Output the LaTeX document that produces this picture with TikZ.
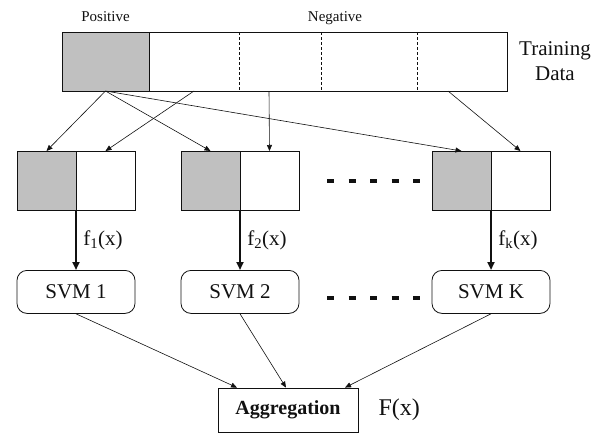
\documentclass[tikz,border=0pt]{standalone}
\usepackage{fontspec}
\setmainfont{Liberation Serif}
\usetikzlibrary{positioning,arrows.meta}
\definecolor{PosGray}{HTML}{C0C0C0}
\definecolor{NiceBlack}{HTML}{111111}

\begin{document}
\begin{tikzpicture}[x=1pt, y=-1pt, NiceBlack,
    half/.style={draw, line width=0.8pt, minimum width=59pt, minimum height=59pt,
      inner sep=0pt, outer sep=0pt},
    poshalf/.style={half, fill=PosGray},
    svmbox/.style={draw, line width=0.8pt, rounded corners=10pt, minimum width=118pt,
      minimum height=43pt, font=\fontsize{21}{21}\selectfont},
    thinarrow/.style={-{Triangle[length=6pt,width=5pt]}, line width=0.6pt},
    thickarrow/.style={-{Triangle[length=8pt,width=7pt]}, line width=2pt},
    dots/.style={line width=4pt, dash pattern=on 7pt off 14.5pt}]
  \useasboundingbox (0,0) rectangle (607,434);
  % Training data
  \node[poshalf, minimum width=87pt, anchor=north west] (pos) at (62,32) {};
  \node[half, minimum width=358pt, right=0pt of pos] (neg) {};
  \foreach \d in {90,172,268}
    \draw[dashed, line width=0.7pt, dash pattern=on 3pt off 2pt]
      ([xshift=\d pt]neg.north west) -- ([xshift=\d pt]neg.south west);
  \node[font=\fontsize{15}{15}\selectfont, inner sep=0pt, anchor=base]
    (poslbl) at ([yshift=11pt]pos.north) {Positive};
  \node[font=\fontsize{15}{15}\selectfont, inner sep=0pt, anchor=base]
    (neglbl) at ([xshift=7pt,yshift=11pt]neg.north) {Negative};
  \node[font=\fontsize{21}{25}\selectfont, align=center, inner sep=0pt,
    right=12pt of neg] (train) {Training\\Data};
  % Subsets
  \node[poshalf, anchor=north west] (g1) at (17,151) {};
  \node[half, right=0pt of g1] (w1) {};
  \node[poshalf, anchor=north west] (g2) at (181,151) {};
  \node[half, right=0pt of g2] (w2) {};
  \node[poshalf, anchor=north west] (g3) at (432,151) {};
  \node[half, right=0pt of g3] (w3) {};
  \draw[dots] (327,181) -- (420,181);
  % Sampling arrows
  \coordinate (s1) at ([xshift=45pt]neg.south west);
  \coordinate (s2) at ([xshift=120pt]neg.south west);
  \coordinate (s3) at ([xshift=299pt]neg.south west);
  \foreach \t in {g1,g2,g3}
    \draw[thinarrow] (pos.south) -- (\t.north);
  \draw[thinarrow] (s1) -- (w1.north);
  \draw[thinarrow] (s2) -- (w2.north);
  \draw[thinarrow] (s3) -- (w3.north);
  % Classifiers
  \node[svmbox, below=60pt of g1.south east] (svm1) {SVM 1};
  \node[svmbox, below=60pt of g2.south east] (svm2) {SVM 2};
  \node[svmbox, below=60pt of g3.south east] (svmk) {SVM K};
  \draw[dots] (327,298) -- (420,298);
  \draw[thickarrow] (g1.south east) -- (svm1)
    node[midway, right=3pt, font=\fontsize{21}{21}\selectfont] {f\textsubscript{1}(x)};
  \draw[thickarrow] (g2.south east) -- (svm2)
    node[midway, right=3pt, font=\fontsize{21}{21}\selectfont] {f\textsubscript{2}(x)};
  \draw[thickarrow] (g3.south east) -- (svmk)
    node[midway, right=3pt, font=\fontsize{21}{21}\selectfont] {f\textsubscript{k}(x)};
  % Aggregation
  \node[draw, line width=0.8pt, minimum width=140pt, minimum height=44pt,
    font=\bfseries\fontsize{20}{20}\selectfont] (agg) at (288,410) {Aggregation};
  \node[font=\fontsize{24}{24}\selectfont, inner sep=0pt, right=20pt of agg] (fx) {F(x)};
  \draw[thinarrow] (svm1.south) -- ([xshift=-51pt]agg.north);
  \draw[thinarrow] (svm2.south) -- ([xshift=-2pt]agg.north);
  \draw[thinarrow] (svmk.south) -- ([xshift=57pt]agg.north);
\end{tikzpicture}
\end{document}
